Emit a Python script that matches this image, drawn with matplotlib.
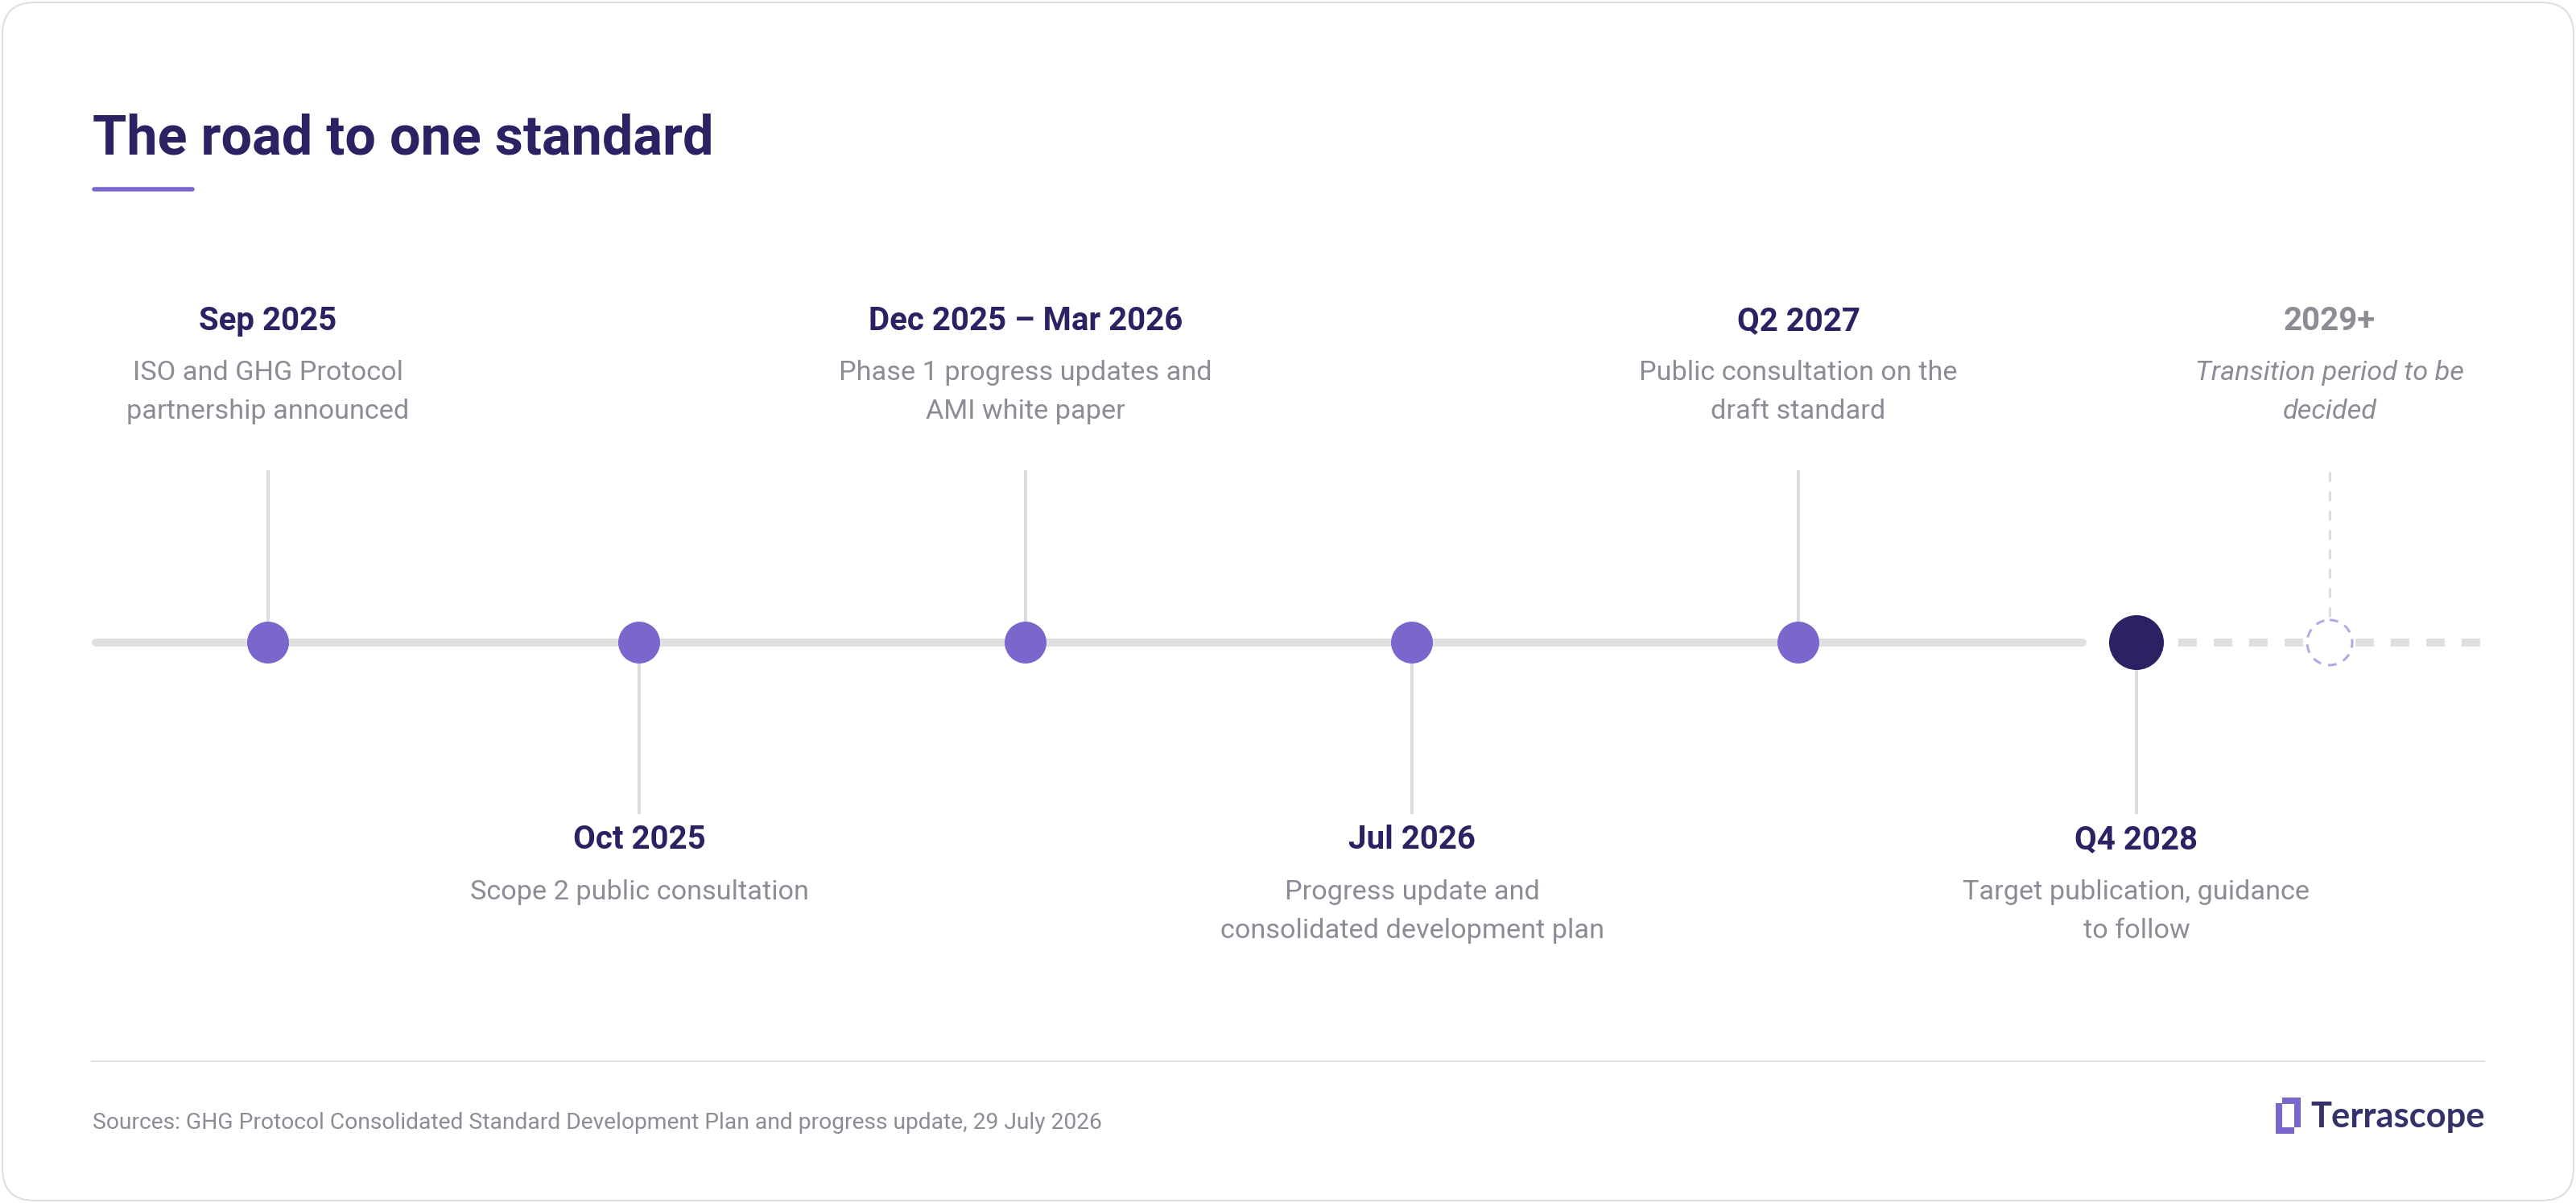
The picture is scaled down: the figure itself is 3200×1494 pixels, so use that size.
import matplotlib
matplotlib.use("Agg")
import matplotlib.pyplot as plt
from matplotlib.patches import FancyBboxPatch, Circle, Rectangle

plt.rcParams['font.family'] = ['Roboto', 'DejaVu Sans']

# timeline data
dates = ["Sep 2025", "Oct 2025", "Dec 2025 – Mar 2026", "Jul 2026",
         "Q2 2027", "Q4 2028", "2029+"]
descs = [["ISO and GHG Protocol", "partnership announced"],
         ["Scope 2 public consultation"],
         ["Phase 1 progress updates and", "AMI white paper"],
         ["Progress update and", "consolidated development plan"],
         ["Public consultation on the", "draft standard"],
         ["Target publication, guidance", "to follow"],
         ["Transition period to be", "decided"]]
sides = ["up", "down", "up", "down", "up", "down", "up"]
kinds = ["done", "done", "done", "done", "done", "target", "future"]

title = "The road to one standard"
source = "Sources: GHG Protocol Consolidated Standard Development Plan and progress update, 29 July 2026"
brand = "Terrascope"

# layout (pixels)
W, H = 3200, 1494
x_pos = [333, 794, 1274, 1754, 2234, 2654, 2894]
y_line = 798

NAVY = "#2C2162"
PURPLE = "#7B66CC"
GREY = "#8C8C96"
LINE = "#E0E0E0"
STEM = "#DCDCDC"

px = 72 / 200  # points per pixel

fig = plt.figure(figsize=(W / 200, H / 200), dpi=200)
ax = fig.add_axes([0, 0, 1, 1])
ax.set_xlim(0, W)
ax.set_ylim(H, 0)
ax.axis("off")

# card
card = FancyBboxPatch((3, 3), W - 6, H - 6, boxstyle="round,pad=0,rounding_size=40",
                      fc="white", ec="#DDDDDD", lw=2 * px)
ax.add_patch(card)

# title + accent
ax.text(115, 191, title, fontsize=24.6, fontweight="bold", color=NAVY, va="baseline")
ax.plot([117, 239], [235, 235], color=PURPLE, lw=5.5 * px, solid_capstyle="round")

# main line, solid up to the target then dashed
ax.plot([x_pos[0] - 214, x_pos[5] - 67], [y_line, y_line], color=LINE, lw=10 * px,
        solid_capstyle="round", zorder=1)
ax.plot([x_pos[5] + 52, x_pos[6] + 188], [y_line, y_line], color=LINE, lw=10 * px,
        linestyle=(0, (2.3, 2.1)), dash_capstyle="butt", zorder=1)

for x, d, lines, side, kind in zip(x_pos, dates, descs, sides, kinds):
    r = 34 if kind == "target" else 28 if kind == "future" else 26
    if side == "up":
        stem = [586, y_line - r]
        y_date, y_desc = 410, [472, 520]
    else:
        stem = [y_line + r, 1009]
        y_date, y_desc = 1054, [1117, 1165]

    if kind == "future":
        ax.plot([x, x], stem, color=STEM, lw=3 * px, linestyle=(0, (4, 4)),
                dash_capstyle="butt", zorder=2)
        ax.add_patch(Circle((x, y_line), r, fc="white", ec="#B5A6E6", lw=3 * px,
                            linestyle=(0, (3.6, 3.0)), zorder=3))
        dcol, style = GREY, "italic"
    else:
        ax.plot([x, x], stem, color=STEM, lw=4 * px, zorder=2)
        ax.add_patch(Circle((x, y_line), r, fc=NAVY if kind == "target" else PURPLE,
                            ec="none", zorder=3))
        dcol, style = NAVY, "normal"

    ax.text(x, y_date, d, fontsize=14.5, fontweight="bold", color=dcol,
            ha="center", va="baseline")
    for yy, ln in zip(y_desc, lines):
        ax.text(x, yy, ln, fontsize=12.35, color=GREY, style=style,
                ha="center", va="baseline")

# footer
ax.plot([114, 3086], [1318, 1318], color=LINE, lw=2 * px)
ax.text(115, 1402, source, fontsize=10.2, color=GREY, va="baseline")

# logo mark
for (x0, y0, w, h) in [(2827, 1370, 7.5, 38), (2827, 1400, 23, 8),
                       (2834.5, 1363, 23, 7.5), (2850, 1363, 7.5, 37)]:
    ax.add_patch(Rectangle((x0, y0), w, h, fc=PURPLE, ec="none"))
ax.text(2870, 1400, brand, fontsize=15.6, fontweight="bold", color="#35316B",
        va="baseline", family=["Lato", "DejaVu Sans"])

fig.savefig("out.png", dpi=200, facecolor="white")
